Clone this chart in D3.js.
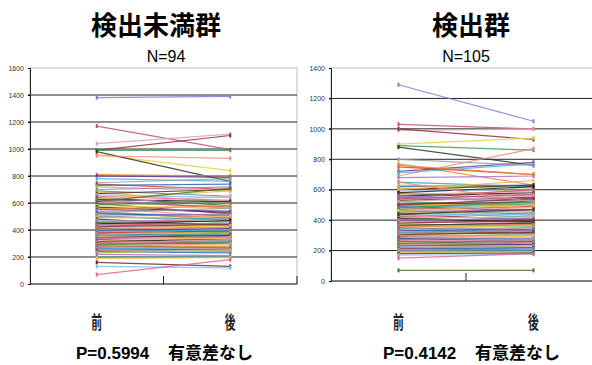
<!DOCTYPE html>
<html>
<head>
<meta charset="utf-8">
<script src="https://cdn.jsdelivr.net/npm/d3@7"></script>
<style>
  body { margin: 0; background: #fff; }
  svg { display: block; }
</style>
</head>
<body>
<div id="chart"></div>
<script>
// 検出未満群 (N=94): 前 / 後
const leftBefore = [
  1380,1170,1040,990,990,960,980,950,810,800,
  780,750,740,730,720,700,690,680,670,660,
  650,640,630,625,620,610,600,595,590,580,
  570,560,555,550,540,530,525,520,510,500,
  495,490,480,470,460,455,450,445,440,435,
  430,425,420,415,410,405,400,395,390,385,
  380,375,370,365,360,350,345,340,335,330,
  320,315,310,305,300,295,290,285,280,275,
  270,265,260,255,250,240,230,220,200,190,
  160,130,70,610
];
const leftAfter = [
  1390,995,1110,1100,990,840,760,930,800,790,
  760,780,700,740,690,720,650,600,700,640,
  620,580,690,610,560,570,650,520,600,560,
  530,500,580,540,470,560,490,510,450,520,
  480,500,430,460,480,440,420,470,410,450,
  400,440,390,430,380,420,370,410,400,360,
  390,350,380,340,370,330,360,320,350,300,
  340,330,320,310,330,300,310,290,270,300,
  280,250,270,240,260,230,250,210,200,195,
  130,120,180,710
];

// 検出群 (N=105): 前 / 後
const rightBefore = [
  1290,1030,990,1000,890,900,880,690,770,720,
  710,800,750,620,630,680,650,610,600,590,
  580,575,570,560,550,545,540,530,520,510,
  505,500,495,490,485,480,470,465,460,455,
  450,445,440,430,425,420,415,410,400,395,
  390,380,375,370,365,360,355,350,345,340,
  335,330,325,320,315,310,305,300,295,290,
  285,280,275,270,265,260,255,250,245,240,
  235,230,225,220,215,210,205,200,195,190,
  180,170,150,70,600,580,560,540,520,500,
  480,460,440,650,760
];
const rightAfter = [
  1050,1000,1000,930,860,940,760,870,630,780,
  770,760,700,630,610,690,620,590,630,600,
  560,540,590,580,520,600,530,550,500,480,
  520,470,510,460,500,450,490,440,430,470,
  420,460,400,440,410,380,420,390,410,370,
  380,400,360,350,380,340,370,330,320,350,
  310,340,300,330,310,290,320,280,300,270,
  300,260,280,250,270,240,260,230,240,250,
  220,240,210,230,200,220,190,210,200,180,
  185,175,180,70,660,620,530,570,560,540,
  520,500,470,520,700
];

const categories = ['前', '後'];
const leftTicks = [0, 200, 400, 600, 800, 1000, 1200, 1400, 1600];
const rightTicks = [0, 200, 400, 600, 800, 1000, 1200, 1400];

const lineColors = [
  '#7b7fd6','#c0507a','#e0a0b0','#8b2e3a','#3d9a50','#e6d03a','#333333','#f08a7a',
  '#e88a30','#6a3a9a','#4ab0d8','#9c9c9c','#d04040','#2a6ab0','#a0c850','#b070c0',
  '#40a0a0','#f0c040','#603020','#80c0e8','#e060a0','#507030','#ffb060','#1a1a1a'
];

const width = 592, height = 365;
const svg = d3.select('#chart').append('svg')
  .attr('width', width).attr('height', height);

function panel(opt) {
  const x = d3.scalePoint().domain(categories).range([opt.x0, opt.x1]).padding(0.5);
  const y = d3.scaleLinear().domain([0, opt.max]).range([opt.y0, opt.y1]);
  const g = svg.append('g');

  // frame
  g.append('rect')
    .attr('x', opt.x0).attr('y', opt.y1)
    .attr('width', opt.x1 - opt.x0).attr('height', opt.y0 - opt.y1)
    .attr('fill', 'none').attr('stroke', '#aaa').attr('stroke-width', 0.8);

  // gridlines
  g.selectAll('.grid').data(opt.ticks.filter(d => d > 0 && d < opt.max)).enter()
    .append('line')
    .attr('x1', opt.x0 - 2).attr('x2', opt.x1)
    .attr('y1', d => y(d)).attr('y2', d => y(d))
    .attr('stroke', '#222').attr('stroke-width', 1);

  // y axis
  const yAxis = d3.axisLeft(y).tickValues(opt.ticks).tickFormat(d3.format('d'))
    .tickSize(2).tickPadding(4);
  const ya = g.append('g').attr('transform', `translate(${opt.x0},0)`).call(yAxis);
  ya.select('.domain').attr('stroke', '#222');
  ya.selectAll('text')
    .attr('font-family', '"Liberation Sans Narrow", "Liberation Sans", sans-serif')
    .attr('font-size', 7).attr('fill', '#333');

  // bottom axis
  g.append('line')
    .attr('x1', opt.x0).attr('x2', opt.x1)
    .attr('y1', opt.y0).attr('y2', opt.y0)
    .attr('stroke', '#222').attr('stroke-width', 1);
  const mid = (x(categories[0]) + x(categories[1])) / 2;
  [mid, opt.x1].forEach(t => {
    g.append('line')
      .attr('x1', t).attr('x2', t)
      .attr('y1', opt.y0 - 8).attr('y2', opt.y0)
      .attr('stroke', '#222').attr('stroke-width', 1);
  });

  // paired lines
  const pairs = opt.before.map((b, i) => ({ b: b, a: opt.after[i], i: i }));
  const line = d3.line().x(d => x(d[0])).y(d => y(d[1]));
  g.selectAll('.pair').data(pairs).enter()
    .append('path')
    .attr('d', d => line([[categories[0], d.b], [categories[1], d.a]]))
    .attr('fill', 'none')
    .attr('stroke', d => lineColors[d.i % lineColors.length])
    .attr('stroke-width', 1.2)
    .attr('stroke-opacity', 0.85);

  // markers
  pairs.forEach(d => {
    [[categories[0], d.b], [categories[1], d.a]].forEach(p => {
      g.append('rect')
        .attr('x', x(p[0]) - 1).attr('y', y(p[1]) - 2)
        .attr('width', 2).attr('height', 4)
        .attr('fill', lineColors[d.i % lineColors.length]);
    });
  });

  // titles
  g.append('text')
    .attr('x', opt.titleX).attr('y', 35)
    .attr('text-anchor', 'middle')
    .attr('font-family', '"Noto Sans CJK JP", sans-serif')
    .attr('font-weight', 'bold').attr('font-size', 26)
    .text(opt.title);
  g.append('text')
    .attr('x', opt.nX).attr('y', 62)
    .attr('text-anchor', 'middle')
    .attr('font-family', '"Liberation Sans", sans-serif')
    .attr('font-size', 16)
    .text(opt.n);

  // category labels
  categories.forEach(c => {
    g.append('text')
      .attr('transform', `translate(${x(c)},329) scale(0.6,1)`)
      .attr('text-anchor', 'middle')
      .attr('font-family', '"Noto Sans CJK JP", sans-serif')
      .attr('font-weight', 'bold').attr('font-size', 18).attr('fill', '#222')
      .text(c);
  });

  // p-value
  g.append('text')
    .attr('x', opt.pX).attr('y', 359)
    .attr('font-family', '"Liberation Sans", sans-serif')
    .attr('font-weight', 'bold').attr('font-size', 17)
    .text(opt.p);
  g.append('text')
    .attr('x', opt.sigX).attr('y', 359)
    .attr('font-family', '"Noto Sans CJK JP", sans-serif')
    .attr('font-weight', 'bold').attr('font-size', 17)
    .text('有意差なし');
}

panel({
  before: leftBefore, after: leftAfter, ticks: leftTicks, max: 1600,
  x0: 30, x1: 297, y0: 284, y1: 68,
  title: '検出未満群', titleX: 156, n: 'N=' + leftBefore.length, nX: 166,
  p: 'P=0.5994', pX: 76, sigX: 168
});
panel({
  before: rightBefore, after: rightAfter, ticks: rightTicks, max: 1400,
  x0: 331, x1: 601, y0: 281, y1: 68,
  title: '検出群', titleX: 471, n: 'N=' + rightBefore.length, nX: 466,
  p: 'P=0.4142', pX: 383, sigX: 475
});
</script>
</body>
</html>
